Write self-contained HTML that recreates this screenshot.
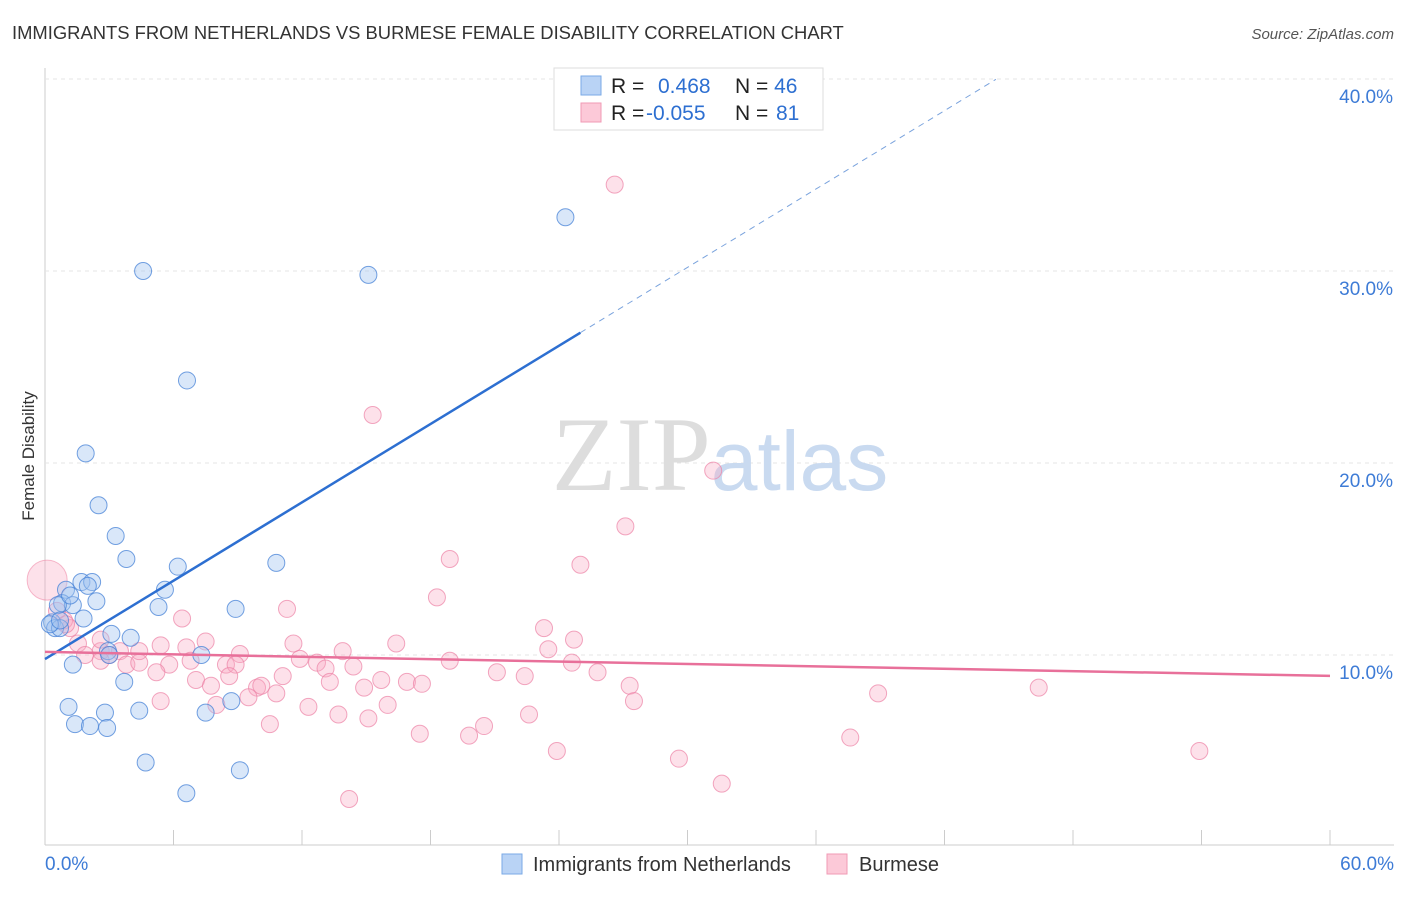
<!DOCTYPE html>
<html><head><meta charset="utf-8"><style>
body{margin:0;background:#fff;font-family:"Liberation Sans",sans-serif;}
</style></head><body>
<svg id="c" width="1406" height="892" xmlns="http://www.w3.org/2000/svg" font-family="Liberation Sans, sans-serif">
<text x="12" y="39" font-size="18.4" fill="#333">IMMIGRANTS FROM NETHERLANDS VS BURMESE FEMALE DISABILITY CORRELATION CHART</text>
<text x="1394" y="39" font-size="15" fill="#555" font-style="italic" text-anchor="end">Source: ZipAtlas.com</text>
<text transform="translate(34,456) rotate(-90)" font-size="17" fill="#333" text-anchor="middle">Female Disability</text>
<g id="grid"></g>
<text x="720" y="490" font-size="106" text-anchor="middle" fill="#ddd" font-family="Liberation Serif, serif">ZIP<tspan fill="#c9daf0" font-family="Liberation Sans, sans-serif" font-size="84">atlas</tspan></text>
<g id="pts"></g><g id="lines"></g>
<g>
<rect x="554" y="68" width="269" height="62" fill="#fff" stroke="#ddd"/>
<rect x="581" y="76" width="20" height="19" fill="#b9d3f5" stroke="#7aa9e6"/>
<rect x="581" y="103" width="20" height="19" fill="#fcc9d8" stroke="#f09ab5"/>
<text x="611" y="93" font-size="21" fill="#222">R = <tspan fill="#2d6fd1" x="658">0.468</tspan><tspan x="735" fill="#222">N = </tspan><tspan fill="#2d6fd1">46</tspan></text>
<text x="611" y="120" font-size="21" fill="#222">R = <tspan fill="#2d6fd1" x="646">-0.055</tspan><tspan x="735" fill="#222">N = </tspan><tspan fill="#2d6fd1" x="776">81</tspan></text>
</g>
<g>
<rect x="502" y="854" width="20" height="20" fill="#b9d3f5" stroke="#7aa9e6"/>
<text x="533" y="871" font-size="20" fill="#333">Immigrants from Netherlands</text>
<rect x="827" y="854" width="20" height="20" fill="#fcc9d8" stroke="#f09ab5"/>
<text x="859" y="871" font-size="20" fill="#333">Burmese</text>
</g>
</svg>
<script>
const blueX=[4.58,24.3,15.1,6.63,1.9,2.5,3.3,3.8,6.2,10.8,0.98,1.7,2.2,2.0,5.6,0.8,1.3,2.4,5.3,8.9,1.8,0.33,0.47,0.7,3.1,4.0,2.94,7.3,1.3,3.7,1.1,2.8,4.4,7.5,8.7,1.4,2.1,2.9,4.7,9.1,6.6,0.23,0.6,1.17,3.0,0.7];
const blueY=[30.0,32.8,29.8,24.3,20.5,17.8,16.2,15.0,14.6,14.8,13.4,13.8,13.8,13.6,13.4,12.7,12.6,12.8,12.5,12.4,11.9,11.7,11.4,11.4,11.1,10.9,10.2,10.0,9.5,8.6,7.3,7.0,7.1,7.0,7.6,6.4,6.3,6.2,4.4,4.0,2.8,11.6,12.6,13.1,10.0,11.8];
const pinkX=[26.6,15.3,31.2,27.1,18.9,25.0,18.3,11.3,6.4,23.3,24.7,23.5,16.4,11.6,7.5,5.4,6.6,3.5,2.6,1.54,1.17,0.56,0.89,1.87,3.0,9.1,13.9,11.9,12.7,14.4,8.45,8.9,3.8,4.4,5.8,5.2,13.1,24.6,25.8,21.1,22.4,6.8,9.9,11.1,13.3,14.9,15.7,16.9,17.6,7.05,7.75,10.1,8.6,9.5,10.8,12.3,16.0,13.7,15.1,10.5,17.5,20.5,19.8,22.6,27.3,27.5,38.9,46.4,23.9,29.6,37.6,53.9,31.6,14.2,8.0,2.6,4.4,18.9,5.4,2.6,0.98];
const pinkY=[34.5,22.5,19.6,16.7,15.0,14.7,13.0,12.4,11.9,11.4,10.8,10.3,10.6,10.6,10.7,10.5,10.4,10.2,10.2,10.6,11.4,12.3,11.8,10.0,10.0,10.05,10.2,9.8,9.6,9.4,9.5,9.5,9.5,9.6,9.5,9.1,9.3,9.6,9.1,9.1,8.9,9.7,8.3,8.9,8.6,8.3,8.7,8.6,8.5,8.7,8.4,8.4,8.9,7.8,8.0,7.3,7.4,6.9,6.7,6.4,5.9,6.3,5.8,6.9,8.4,7.6,8.0,8.3,5.0,4.6,5.7,5.0,3.3,2.5,7.4,9.7,10.2,9.7,7.6,10.8,11.6];
const xTicks=[0,60];const yTicks=[10,20,30,40];
const X=v=>45+v/60*1285, Y=v=>847-v*19.2;
const NS="http://www.w3.org/2000/svg";
function mk(t,a,p){const e=document.createElementNS(NS,t);for(const k in a)e.setAttribute(k,a[k]);p.appendChild(e);return e;}
const g=document.getElementById('grid');
const ax=mk('line',{x1:45,y1:68,x2:45,y2:845,stroke:'#ccc'},g);

const xa=mk('line',{x1:45,y1:845,x2:1394,y2:845,stroke:'#ccc'},g);

yTicks.forEach(v=>{const l=mk('line',{x1:45,x2:1394,y1:Y(v),y2:Y(v),stroke:'#e4e4e4','stroke-dasharray':'4,4'},g);

const t=mk('text',{x:1393,y:Y(v)+24,'font-size':19,fill:'#3d7bd6','text-anchor':'end'},g);t.textContent=v.toFixed(1)+'%';
});
for(let i=1;i<=10;i++){const x=X(i*6);const l=mk('line',{x1:x,x2:x,y1:830,y2:845,stroke:'#ccc'},g);
}
xTicks.forEach(v=>{const t=mk('text',{x:v==0?45:1394,y:870,'font-size':19,fill:'#3d7bd6','text-anchor':v==0?'start':'end'},g);t.textContent=v.toFixed(1)+'%';
});
const P=document.getElementById('pts');
const big=mk('circle',{cx:X(0.1),cy:Y(13.9),r:20,fill:'rgba(248,170,195,0.35)',stroke:'rgba(240,140,170,0.6)'},P);

pinkX.forEach((v,i)=>{const c=mk('circle',{cx:X(v),cy:Y(pinkY[i]),r:8.5,fill:'rgba(248,170,195,0.35)',stroke:'rgba(236,130,165,0.7)'},P);
});
blueX.forEach((v,i)=>{const c=mk('circle',{cx:X(v),cy:Y(blueY[i]),r:8.5,fill:'rgba(160,195,240,0.4)',stroke:'rgba(70,130,215,0.75)'},P);
});
const L=document.getElementById('lines');
const bl=v=>9.79+0.68*v;
let a=mk('line',{x1:X(0),y1:Y(bl(0)),x2:X(25),y2:Y(bl(25)),stroke:'#2d6fd1','stroke-width':2.5},L);

a=mk('line',{x1:X(25),y1:Y(bl(25)),x2:X(44.4),y2:Y(bl(44.4)),stroke:'#7aa3dd','stroke-width':1,'stroke-dasharray':'6,5'},L);

a=mk('line',{x1:X(0),y1:Y(10.16),x2:X(60),y2:Y(8.91),stroke:'#e8709a','stroke-width':2.5},L);

</script>
</body></html>
